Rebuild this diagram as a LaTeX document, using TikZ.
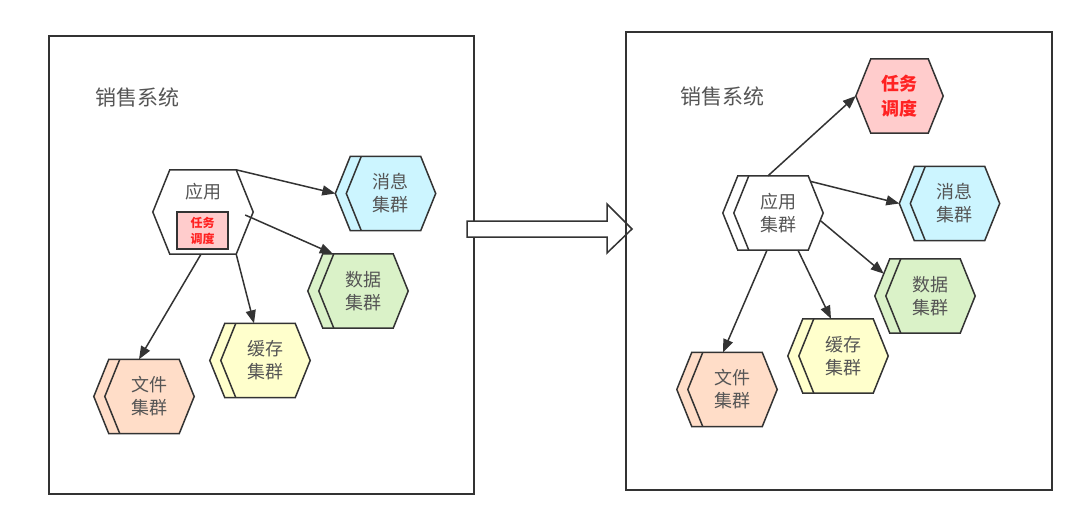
\documentclass[tikz,border=0pt]{standalone}
\usepackage{fontspec}
\setmainfont{Noto Sans CJK SC}
\usepackage{tikz}
\usepackage{xcolor}
\usetikzlibrary{arrows.meta,calc,backgrounds}

\definecolor{edge}{HTML}{333333}
\definecolor{txt}{HTML}{555555}
\definecolor{taskpink}{HTML}{FFCCCC}
\definecolor{taskred}{HTML}{FF2222}
\definecolor{msgcyan}{HTML}{CCF5FF}
\definecolor{datagreen}{HTML}{DAF2C8}
\definecolor{cacheyellow}{HTML}{FFFFCC}
\definecolor{filepeach}{HTML}{FFDDC8}

\tikzset{
  hexnode/.style={minimum width=100pt, minimum height=74pt, inner sep=0pt},
  hextext/.style={align=center, inner sep=0pt, text=txt, font=\fontsize{18}{23}\selectfont},
  link/.style={draw=edge, line width=1.5pt, -{Triangle[length=13pt,width=10pt]}},
  frame/.style={draw=edge, line width=1.5pt},
}
% hexagon behind a node: name, inset, fill
\newcommand{\hexback}[3]{%
  \filldraw[fill=#3, draw=edge, line width=1.5pt] (#1.west) -- ([xshift=#2]#1.north west)
    -- ([xshift=-#2]#1.north east) -- (#1.east) -- ([xshift=-#2]#1.south east)
    -- ([xshift=#2]#1.south west) -- cycle;}
% second left edge of a cluster
\newcommand{\hexinner}[2]{%
  \draw[edge, line width=1.5pt] ([xshift=#2+11]#1.north west) -- ([xshift=11]#1.west)
    -- ([xshift=#2+11]#1.south west);}

\begin{document}
\begin{tikzpicture}[x=1pt,y=-1pt]
\useasboundingbox (0,0) rectangle (1092,516);

% left: before
\draw[frame] (49,36) rectangle (474,494);
\node[font=\fontsize{21}{21}\selectfont, text=txt] (title1) at (137,97) {销售系统};
\node[hexnode, minimum height=84pt] (app1) at (203,212) {};
\node[hextext] (app1txt) at (203,192) {应用};
\node[draw=edge, line width=1.5pt, fill=taskpink, minimum width=51pt, minimum height=37pt,
  inner sep=0pt, align=center, text=taskred, font=\bfseries\fontsize{12}{16}\selectfont]
  (task1) at (202.5,230.5) {任务\\调度};
\node[hexnode] (msg1) at (385.5,193.5) {};
\node[hexnode] (data1) at (358,291) {};
\node[hexnode] (cache1) at (260,360.5) {};
\node[hexnode] (file1) at (144,396.5) {};
\node[hextext] (msg1txt) at ([xshift=5]msg1.center) {消息\\集群};
\node[hextext] (data1txt) at ([xshift=5]data1.center) {数据\\集群};
\node[hextext] (cache1txt) at ([xshift=5]cache1.center) {缓存\\集群};
\node[hextext] (file1txt) at ([xshift=5]file1.center) {文件\\集群};

\draw[link] ([xshift=-17]app1.north east) -- (msg1.west);
\draw[link] ([xshift=-8,yshift=-3]app1.east) -- ([xshift=25]data1.north west);
\draw[link] ([xshift=-17]app1.south east) -- ([xshift=-6]cache1.north);
\draw[link] ([xshift=-2]app1.south) -- ([xshift=-5]file1.north);

% move arrow
\filldraw[fill=white, draw=edge, line width=1.5pt] (467,221) -- (607,221) -- (607,204)
  -- (632,229) -- (607,253) -- (607,237) -- (467,237) -- cycle;

% right: after
\draw[frame] (626,32) rectangle (1052,490);
\node[font=\fontsize{21}{21}\selectfont, text=txt] (title2) at (722,96) {销售系统};
\node[hexnode, minimum width=87pt] (task2) at (899.5,96) {};
\node[hextext, text=taskred, font=\bfseries\fontsize{18}{25}\selectfont]
  (task2txt) at (task2.center) {任务\\调度};
\node[hexnode] (app2) at (773,213) {};
\node[hexnode] (msg2) at (949.5,203.5) {};
\node[hexnode] (data2) at (925,296) {};
\node[hexnode] (cache2) at (838,356) {};
\node[hexnode] (file2) at (727,389.5) {};
\node[hextext] (app2txt) at ([xshift=5]app2.center) {应用\\集群};
\node[hextext] (msg2txt) at ([xshift=5]msg2.center) {消息\\集群};
\node[hextext] (data2txt) at ([xshift=5]data2.center) {数据\\集群};
\node[hextext] (cache2txt) at ([xshift=5]cache2.center) {缓存\\集群};
\node[hextext] (file2txt) at ([xshift=5]file2.center) {文件\\集群};

\draw[link] ([xshift=-5]app2.north) -- (task2.west);
\draw[link] ($([xshift=-15]app2.north east)!0.15!(app2.east)$) -- (msg2.west);
\draw[link] ($(app2.east)!0.2!([xshift=-15]app2.south east)$)
  -- ($(data2.west)!0.6!([xshift=15]data2.north west)$);
\draw[link] ([xshift=25]app2.south) -- ([xshift=-7]cache2.north);
\draw[link] ([xshift=-6]app2.south) -- ([xshift=-4]file2.north);

\begin{scope}[on background layer]
\fill[white] (0,0) rectangle (1092,516);
\hexback{app1}{17}{white}
\hexback{msg1}{15}{msgcyan}   \hexinner{msg1}{15}
\hexback{data1}{15}{datagreen} \hexinner{data1}{15}
\hexback{cache1}{15}{cacheyellow} \hexinner{cache1}{15}
\hexback{file1}{15}{filepeach} \hexinner{file1}{15}
\hexback{task2}{15}{taskpink}
\hexback{app2}{15}{white}     \hexinner{app2}{15}
\hexback{msg2}{15}{msgcyan}   \hexinner{msg2}{15}
\hexback{data2}{15}{datagreen} \hexinner{data2}{15}
\hexback{cache2}{15}{cacheyellow} \hexinner{cache2}{15}
\hexback{file2}{15}{filepeach} \hexinner{file2}{15}
\end{scope}
\end{tikzpicture}
\end{document}
